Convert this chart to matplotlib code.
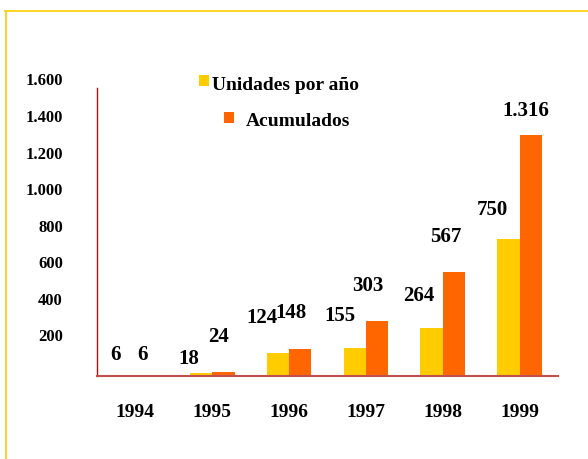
import numpy as np
import matplotlib
matplotlib.use("Agg")
import matplotlib.pyplot as plt
from matplotlib.lines import Line2D
from matplotlib.patches import Rectangle
import matplotlib.transforms as mtransforms

years = ["1994", "1995", "1996", "1997", "1998", "1999"]
por_anio = [6, 18, 124, 155, 264, 750]
acumulados = [6, 24, 148, 303, 567, 1316]
label_anio = ["6", "18", "124", "155", "264", "750"]
label_acum = ["6", "24", "148", "303", "567", "1.316"]
ytick_vals = [200, 400, 600, 800, 1000, 1200, 1400, 1600]
ytick_labels = ["200", "400", "600", "800", "1.000", "1.200", "1.400", "1.600"]

yellow = "#FFCC00"
orange = "#FF6600"

plt.rcParams["font.family"] = ["Liberation Serif", "DejaVu Serif"]
plt.rcParams["font.weight"] = "bold"

fig = plt.figure(figsize=(5.88, 4.59), dpi=100)
W, H = 588, 459

# yellow frame (top and left)
fig.add_artist(Line2D([5 / W, 1], [1 - 11 / H, 1 - 11 / H], color=yellow, lw=1.2))
fig.add_artist(Line2D([6 / W, 6 / W], [0, 1 - 11 / H], color=yellow, lw=1.2))

ax = fig.add_axes([97 / W, 1 - 376 / H, (558 - 97) / W, (376 - 88) / H])
x = np.arange(len(years))
bw = 0.29
ax.bar(x - bw / 2, por_anio, bw, color=yellow, zorder=2)
ax.bar(x + bw / 2, acumulados, bw, color=orange, zorder=2)
ax.set_xlim(-0.5, 5.5)
ax.set_ylim(0, 1575)

for s in ["top", "right"]:
    ax.spines[s].set_visible(False)
ax.spines["left"].set_color("#aa1111")
ax.spines["bottom"].set_color("#c0504d")
ax.spines["left"].set_linewidth(1.0)
ax.spines["bottom"].set_linewidth(1.5)

ax.set_xticks(x)
ax.set_xticklabels(years, fontsize=14, fontweight="bold")
ax.tick_params(axis="x", length=0, pad=20)
ax.set_yticks([])

# y labels (drawn as text, 1.600 sits above the axis top)
trans = mtransforms.blended_transform_factory(fig.transFigure, ax.transData)
off = mtransforms.offset_copy(trans, fig=fig, x=0, y=2, units="dots")
for v, t in zip(ytick_vals, ytick_labels):
    fig.text(63 / W, v, t, transform=off, ha="right", va="center",
             fontsize=12, fontweight="bold")

# data labels (pixel offsets from bar top)
off_anio = [(-9, 20), (-12, 14), (-16, 35), (-15, 32), (-13, 32), (-16, 29)]
off_acum = [(-4, 20), (-5, 35), (-9, 36), (-9, 35), (-8, 35), (-5, 24)]
for i in range(len(years)):
    ax.annotate(label_anio[i], (x[i] - bw / 2, por_anio[i]),
                xytext=off_anio[i], textcoords="offset pixels",
                ha="center", va="center", fontsize=15, fontweight="bold",
                annotation_clip=False)
    ax.annotate(label_acum[i], (x[i] + bw / 2, acumulados[i]),
                xytext=off_acum[i], textcoords="offset pixels",
                ha="center", va="center", fontsize=15, fontweight="bold",
                annotation_clip=False)

# legend
fig.add_artist(Rectangle((199 / W, 1 - 86 / H), 10 / W, 11 / H,
                         facecolor=yellow, edgecolor="none"))
fig.text(212 / W, 1 - 86 / H, "Unidades por año", fontsize=14,
         fontweight="bold", va="center", ha="left")
fig.add_artist(Rectangle((224 / W, 1 - 123 / H), 10 / W, 11 / H,
                         facecolor=orange, edgecolor="none"))
fig.text(246 / W, 1 - 122 / H, "Acumulados", fontsize=14,
         fontweight="bold", va="center", ha="left")

fig.savefig("out.png", dpi=100)
